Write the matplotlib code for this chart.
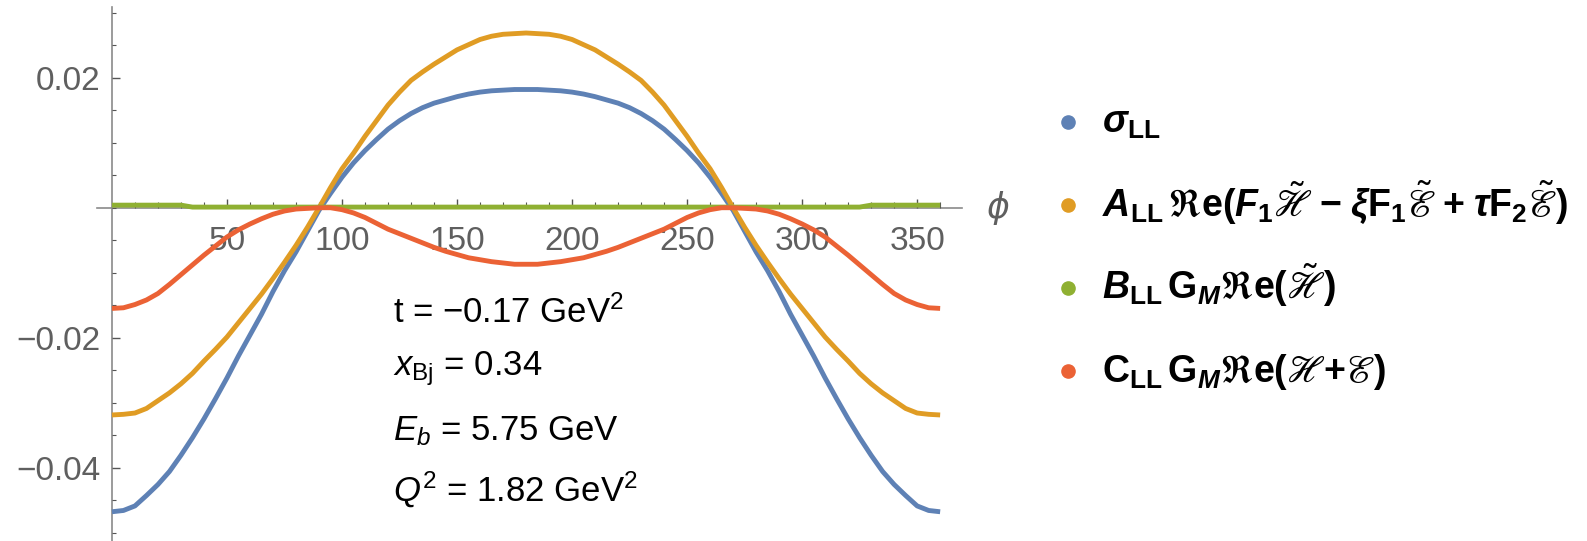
import matplotlib
matplotlib.use("Agg")
import matplotlib.pyplot as plt
from matplotlib.lines import Line2D
from matplotlib.ticker import MultipleLocator, FixedLocator

plt.rcParams['font.family'] = ['Liberation Sans', 'DejaVu Sans']
plt.rcParams['mathtext.fontset'] = 'custom'
plt.rcParams['mathtext.rm'] = 'Liberation Sans'
plt.rcParams['mathtext.it'] = 'Liberation Sans:italic'
plt.rcParams['mathtext.bf'] = 'Liberation Sans:bold'
plt.rcParams['mathtext.bfit'] = 'Liberation Sans:bold:italic'
plt.rcParams['mathtext.cal'] = 'STIXGeneral'
plt.rcParams['mathtext.fallback'] = 'stix'

# azimuthal angle phi in degrees, 5 degree steps
phi = list(range(0, 365, 5))

sigma_ll = [-0.0468, -0.0466, -0.0459, -0.0443, -0.0426, -0.0406, -0.0381, -0.0354, -0.0325, -0.0294,
            -0.0262, -0.0228, -0.0196, -0.0164, -0.0129, -0.0097, -0.0068, -0.0036, -0.0004, 0.0022,
            0.0047, 0.0069, 0.0088, 0.0105, 0.0121, 0.0134, 0.0145, 0.0154, 0.0161, 0.0166,
            0.0171, 0.0175, 0.0178, 0.0180, 0.0181, 0.0182, 0.0182, 0.0182, 0.0181, 0.0180,
            0.0178, 0.0175, 0.0171, 0.0166, 0.0161, 0.0154, 0.0145, 0.0134, 0.0121, 0.0105,
            0.0088, 0.0069, 0.0047, 0.0022, -0.0004, -0.0036, -0.0068, -0.0097, -0.0129, -0.0164,
            -0.0196, -0.0228, -0.0262, -0.0294, -0.0325, -0.0354, -0.0381, -0.0406, -0.0426, -0.0443,
            -0.0459, -0.0466, -0.0468]

a_ll = [-0.0319, -0.0318, -0.0316, -0.0309, -0.0297, -0.0285, -0.0271, -0.0255, -0.0236, -0.0218,
        -0.0199, -0.0177, -0.0155, -0.0133, -0.0109, -0.0084, -0.0058, -0.0030, 0.0000, 0.0031,
        0.0060, 0.0084, 0.0110, 0.0134, 0.0158, 0.0178, 0.0196, 0.0209, 0.0221, 0.0232,
        0.0243, 0.0251, 0.0259, 0.0264, 0.0267, 0.0268, 0.0269, 0.0268, 0.0267, 0.0264,
        0.0259, 0.0251, 0.0243, 0.0232, 0.0221, 0.0209, 0.0196, 0.0178, 0.0158, 0.0134,
        0.0110, 0.0084, 0.0060, 0.0031, 0.0000, -0.0030, -0.0058, -0.0084, -0.0109, -0.0133,
        -0.0155, -0.0177, -0.0199, -0.0218, -0.0236, -0.0255, -0.0271, -0.0285, -0.0297, -0.0309,
        -0.0316, -0.0318, -0.0319]

b_ll = [0.0004, 0.0004, 0.0004, 0.0004, 0.0004, 0.0004, 0.0004, 0.0001, 0.0001, 0.0001,
        0.0001, 0.0001, 0.0001, 0.0001, 0.0001, 0.0001, 0.0001, 0.0001, 0.0001, 0.0001,
        0.0001, 0.0001, 0.0001, 0.0001, 0.0001, 0.0001, 0.0001, 0.0001, 0.0001, 0.0001,
        0.0001, 0.0001, 0.0001, 0.0001, 0.0001, 0.0001, 0.0001, 0.0001, 0.0001, 0.0001,
        0.0001, 0.0001, 0.0001, 0.0001, 0.0001, 0.0001, 0.0001, 0.0001, 0.0001, 0.0001,
        0.0001, 0.0001, 0.0001, 0.0001, 0.0001, 0.0001, 0.0001, 0.0001, 0.0001, 0.0001,
        0.0001, 0.0001, 0.0001, 0.0001, 0.0001, 0.0001, 0.0004, 0.0004, 0.0004, 0.0004,
        0.0004, 0.0004, 0.0004]

c_ll = [-0.0155, -0.0154, -0.0149, -0.0142, -0.0132, -0.0118, -0.0103, -0.0088, -0.0073, -0.0059,
        -0.0045, -0.0034, -0.0025, -0.0017, -0.0010, -0.0005, -0.0002, -0.0001, 0.0000, 0.0000,
        -0.0003, -0.0008, -0.0015, -0.0024, -0.0033, -0.0040, -0.0047, -0.0054, -0.0061, -0.0067,
        -0.0072, -0.0077, -0.0080, -0.0083, -0.0085, -0.0087, -0.0087, -0.0087, -0.0085, -0.0083,
        -0.0080, -0.0077, -0.0072, -0.0067, -0.0061, -0.0054, -0.0047, -0.0040, -0.0033, -0.0024,
        -0.0015, -0.0008, -0.0003, 0.0000, 0.0000, -0.0001, -0.0002, -0.0005, -0.0010, -0.0017,
        -0.0025, -0.0034, -0.0045, -0.0059, -0.0073, -0.0088, -0.0103, -0.0118, -0.0132, -0.0142,
        -0.0149, -0.0154, -0.0155]

colors = ['#5E81B5', '#E09C24', '#8FB032', '#EB6235']
labels = [
    r'$\mathbfit{\sigma}_{\mathbf{LL}}$',
    r'$\mathbfit{A}_{\mathbf{LL}}\,\mathcal{ℜ}\mathbf{e(}\mathbfit{F}_{\mathbf{1}}\tilde{\mathcal{ℋ}}\;\mathbf{-}\;'
    r'\mathbfit{ξ}\mathbf{F}_{\mathbf{1}}\tilde{\mathcal{ℰ}}\;\mathbf{+}\;\mathbfit{τ}\mathbf{F}_{\mathbf{2}}'
    r'\tilde{\mathcal{ℰ}}\mathbf{)}$',
    r'$\mathbfit{B}_{\mathbf{LL}}\,\mathbf{G}_{\mathbfit{M}}\mathcal{ℜ}\mathbf{e(}\tilde{\mathcal{ℋ}}\mathbf{)}$',
    r'$\mathbf{C}_{\mathbf{LL}}\,\mathbf{G}_{\mathbfit{M}}\mathcal{ℜ}\mathbf{e(}\mathcal{ℋ}\mathbf{{+}}\mathcal{ℰ}\mathbf{)}$',
]
kinematics = ['t = −0.17 GeV$^2$', r'$x_{\mathrm{Bj}}$ = 0.34',
              r'$E_b$ = 5.75 GeV', r'$Q^2$ = 1.82 GeV$^2$']

W, H = 1587, 541
fig = plt.figure(figsize=(W / 100, H / 100), dpi=100)
ax = fig.add_axes([97 / W, 0, (962 - 97) / W, (H - 7) / H])

for y, c in zip([sigma_ll, a_ll, b_ll, c_ll], colors):
    ax.plot(phi, y, color=c, lw=3.5, solid_capstyle='butt', clip_on=False)

ax.set_xlim(-6.5, 369.5)
ax.set_ylim(-0.0513, 0.0309)

ax.spines['top'].set_visible(False)
ax.spines['right'].set_visible(False)
ax.spines['left'].set_position(('data', 0))
ax.spines['bottom'].set_position(('data', 0))
for s in ['left', 'bottom']:
    ax.spines[s].set_color('#8a8a8a')
    ax.spines[s].set_linewidth(1.2)
    ax.spines[s].set_zorder(0.5)

ax.xaxis.set_major_locator(FixedLocator([50, 100, 150, 200, 250, 300, 350]))
ax.xaxis.set_minor_locator(FixedLocator([v for v in range(10, 370, 10) if v % 50]))
ax.yaxis.set_major_locator(FixedLocator([-0.04, -0.02, 0.02]))
ax.yaxis.set_minor_locator(MultipleLocator(0.005))
ax.yaxis.set_major_formatter(plt.FuncFormatter(lambda v, p: f'{v:.2f}'.replace('-', '−')))

ax.tick_params(axis='x', which='major', direction='in', length=6.5, width=1, color='#555555',
               labelsize=24, labelcolor='#5f5f5f', pad=13)
ax.tick_params(axis='x', which='minor', direction='in', length=4, width=0.8, color='#555555')
ax.tick_params(axis='y', which='major', direction='in', length=5.5, width=1, color='#555555',
               labelsize=24, labelcolor='#5f5f5f', pad=8)
ax.tick_params(axis='y', which='minor', direction='in', length=3, width=0.8, color='#555555')

fig.text(997 / W, 1 - 208 / H, 'ϕ', fontsize=25, color='#5f5f5f', style='italic',
         family=['DejaVu Sans'], ha='center', va='center')

# kinematics block
for txt, base in zip(kinematics, [323, 375, 440, 502]):
    fig.text(393 / W, 1 - base / H, txt, fontsize=25, color='black', ha='left', va='baseline')

# legend: dots and labels
for i, (lab, c) in enumerate(zip(labels, colors)):
    yc = 122 + 83 * i
    fig.add_artist(Line2D([1068 / W], [1 - yc / H], marker='o', ms=9.5, color=c,
                          ls='none', transform=fig.transFigure))
    fig.text(1102 / W, 1 - (yc + 11) / H, lab, fontsize=27, color='black', ha='left', va='baseline')

fig.savefig('out.png', dpi=100)
